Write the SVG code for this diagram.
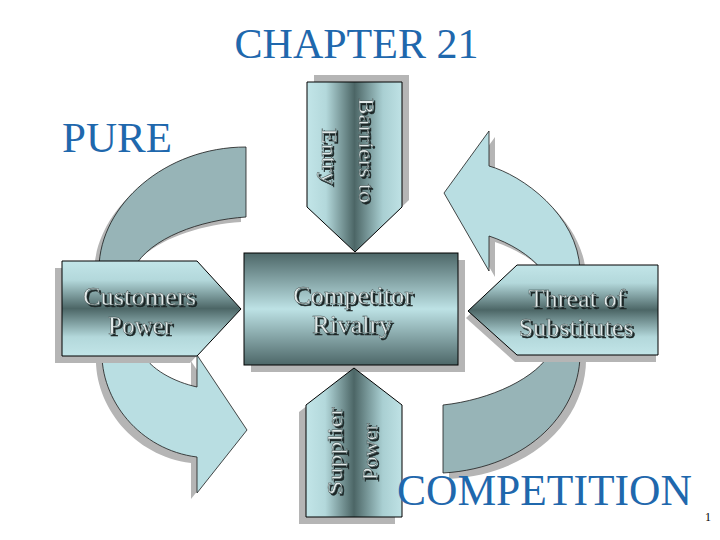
<svg xmlns="http://www.w3.org/2000/svg" width="720" height="540" viewBox="0 0 720 540">
<defs>
<linearGradient id="gV" x1="0" y1="0" x2="0" y2="1">
<stop offset="0" stop-color="#c2e5e8"/><stop offset="0.2" stop-color="#b3d8db"/><stop offset="0.5" stop-color="#4c6666"/><stop offset="0.8" stop-color="#b3d8db"/><stop offset="1" stop-color="#c2e5e8"/>
</linearGradient>
<linearGradient id="gBox" x1="0" y1="0" x2="0" y2="1">
<stop offset="0" stop-color="#4d6768"/><stop offset="0.5" stop-color="#bde2e5"/><stop offset="1" stop-color="#4d6768"/>
</linearGradient>
<linearGradient id="gH" x1="0" y1="0" x2="1" y2="0">
<stop offset="0" stop-color="#c2e5e8"/><stop offset="0.2" stop-color="#b3d8db"/><stop offset="0.5" stop-color="#4c6666"/><stop offset="0.8" stop-color="#a9cfd2"/><stop offset="1" stop-color="#bfe2e5"/>
</linearGradient>
<filter id="emb" x="-10%" y="-10%" width="130%" height="130%">
<feOffset in="SourceAlpha" dx="1.5" dy="1.5" result="o"/>
<feFlood flood-color="#1c2727"/>
<feComposite in2="o" operator="in" result="s"/>
<feMerge><feMergeNode in="s"/><feMergeNode in="SourceGraphic"/></feMerge>
</filter>
</defs>
<style>
.title{font-family:"Liberation Serif","DejaVu Serif",serif;fill:#1f68ad}
.shadow{fill:#b5b5b5}
.arcL{fill:#b9dee2;stroke:#1a1a1a;stroke-width:0.8}
.arcD{fill:#97b4b7;stroke:#1a1a1a;stroke-width:0.8}
.shape{stroke:#000;stroke-width:1}
.lbl{font-family:"Liberation Serif","DejaVu Serif",serif;text-anchor:middle;fill:#e2eaea;stroke:#364545;stroke-width:0.4}
.h{font-size:26px}
.v{font-size:21px}
</style>
<rect width="720" height="540" fill="#fff"/>
<text class="title" x="356.5" y="58" font-size="42" text-anchor="middle">CHAPTER 21</text>
<text class="title" x="62" y="152" font-size="43">PURE</text>

<g id="connectors">
<path class="shadow" transform="translate(-5,5)" d="M246,147 C165,147 100,205 99,268 L134,268 C150,238 200,220 246,217 Z"/>
<path class="arcD" d="M246,147 C165,147 100,205 99,268 L134,268 C150,238 200,220 246,217 Z"/>
<path class="shadow" transform="translate(-6,6)" d="M102,350 C100,400 140,450 197,457 L197,493 L247,430 L197,355 L197,387 C175,382 150,370 140,350 Z"/>
<path class="arcL" d="M102,350 C100,400 140,450 197,457 L197,493 L247,430 L197,355 L197,387 C175,382 150,370 140,350 Z"/>
<path class="shadow" transform="translate(6,6)" d="M489,166 C522,175 578,215 580,270 L542,270 C530,255 510,243 489,236 L489,271 L444,193 L489,131 Z"/>
<path class="arcL" d="M489,166 C522,175 578,215 580,270 L542,270 C530,255 510,243 489,236 L489,271 L444,193 L489,131 Z"/>
<path class="shadow" transform="translate(6,6)" d="M580,350 C582,410 530,468 443,473 L443,405 C490,400 538,378 552,350 Z"/>
<path class="arcD" d="M580,350 C582,410 530,468 443,473 L443,405 C490,400 538,378 552,350 Z"/>
</g>

<g id="customers-power">
<polygon class="shadow" transform="translate(-7,7)" points="62,261 197,261 241,309 197,356 62,356"/>
<polygon class="shape" fill="url(#gV)" points="62,261 197,261 241,309 197,356 62,356"/>
<g filter="url(#emb)">
<text class="lbl h"><tspan x="139.5" y="305" textLength="113" lengthAdjust="spacingAndGlyphs">Customers</tspan><tspan x="140" y="334" textLength="64" lengthAdjust="spacingAndGlyphs">Power</tspan></text>
</g>
</g>

<g id="threat-of-substitutes">
<polygon class="shadow" transform="translate(-2,7)" points="517,265 658,265 658,355 517,355 468,311"/>
<polygon class="shape" fill="url(#gV)" points="517,265 658,265 658,355 517,355 468,311"/>
<g filter="url(#emb)">
<text class="lbl h"><tspan x="577" y="307" textLength="97" lengthAdjust="spacingAndGlyphs">Threat of</tspan><tspan x="576" y="336" textLength="115" lengthAdjust="spacingAndGlyphs">Substitutes</tspan></text>
</g>
</g>

<g id="barriers-to-entry">
<polygon class="shadow" transform="translate(7,-7)" points="307,82 402,82 402,207 355,252 307,207"/>
<polygon class="shape" fill="url(#gH)" points="307,82 402,82 402,207 355,252 307,207"/>
<g filter="url(#emb)">
<text class="lbl v" transform="translate(359,150.5) rotate(90)" x="0" y="0" textLength="105" lengthAdjust="spacingAndGlyphs">Barriers to</text>
<text class="lbl v" transform="translate(322,156.5) rotate(90)" x="0" y="0" textLength="57" lengthAdjust="spacingAndGlyphs">Entry</text>
</g>
</g>

<g id="competitor-rivalry">
<rect class="shadow" x="251" y="260" width="214" height="112"/>
<rect class="shape" fill="url(#gBox)" x="244" y="253" width="214" height="112"/>
<g filter="url(#emb)">
<text class="lbl h"><tspan x="353" y="304" textLength="120" lengthAdjust="spacingAndGlyphs">Competitor</tspan><tspan x="352" y="333" textLength="80" lengthAdjust="spacingAndGlyphs">Rivalry</tspan></text>
</g>
</g>

<g id="supplier-power">
<polygon class="shadow" transform="translate(-7,7)" points="354,368 402,405 402,517 306,517 306,405"/>
<polygon class="shape" fill="url(#gH)" points="354,368 402,405 402,517 306,517 306,405"/>
<g filter="url(#emb)">
<text class="lbl v" transform="translate(342,451) rotate(-90)" x="0" y="0" textLength="88" lengthAdjust="spacingAndGlyphs">Supplier</text>
<text class="lbl v" transform="translate(377,451.5) rotate(-90)" x="0" y="0" textLength="57" lengthAdjust="spacingAndGlyphs">Power</text>
</g>
</g>

<text class="title" x="397" y="505" font-size="43.5">COMPETITION</text>
<text x="705" y="521" font-family="Liberation Serif, DejaVu Serif, serif" font-size="12" fill="#000">1</text>
</svg>
